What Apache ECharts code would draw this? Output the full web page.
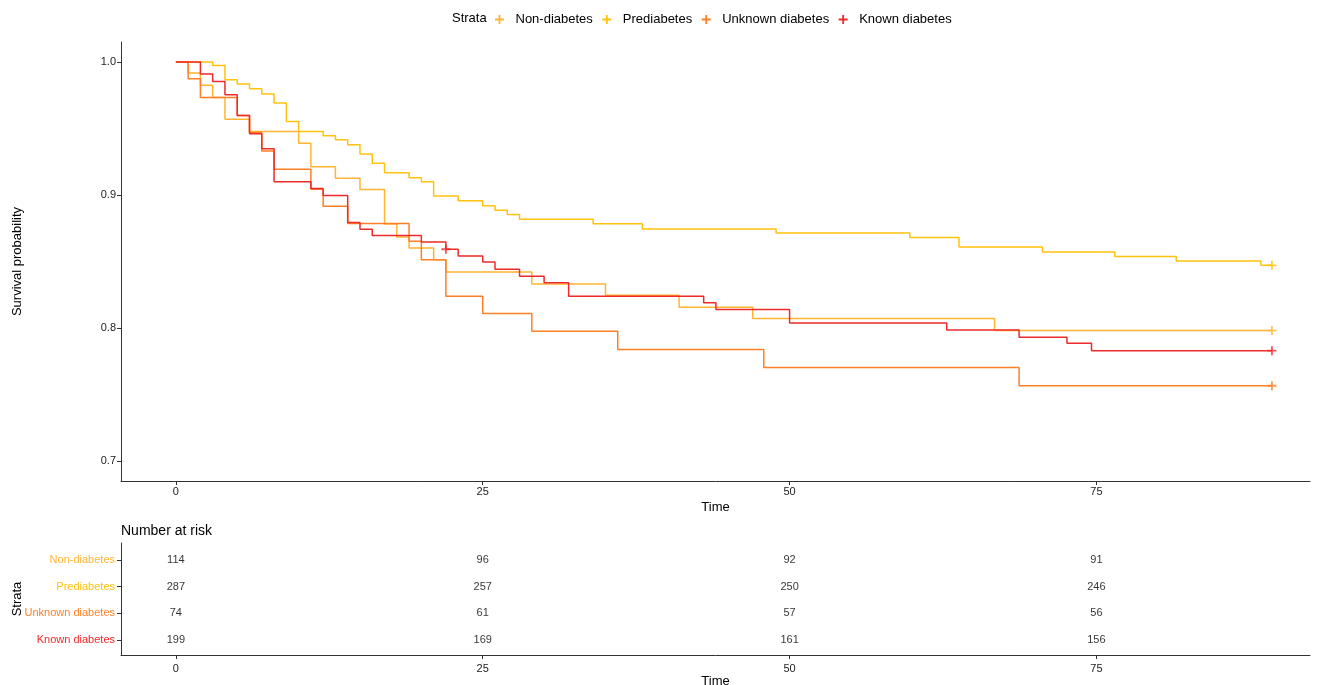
<!DOCTYPE html>
<html>
<head>
<meta charset="utf-8">
<title>Survival curves by diabetes status</title>
<script src="https://cdn.jsdelivr.net/npm/echarts@6/dist/echarts.min.js"></script>
<style>
  html, body { margin: 0; padding: 0; background: #fff; }
  #chart { width: 1325px; height: 685px; }
</style>
</head>
<body>
<div id="chart"></div>
<script>
// strata and colours
var strata = ['Non-diabetes', 'Prediabetes', 'Unknown diabetes', 'Known diabetes'];
var colors = ['#FFB531', '#FFC20E', '#FF7F27', '#EE2A2A'];

// Kaplan-Meier steps (time, survival)
var nonTime = [0, 1, 2, 3, 4, 6, 10, 11, 13, 15, 17, 18, 19, 21, 22, 29, 35, 41, 47, 66.7, 89.3];
var nonSurv = [1, 0.9917, 0.9824, 0.9733, 0.957, 0.9477, 0.9389, 0.9213, 0.9125, 0.9041, 0.8781, 0.8685, 0.8602, 0.8514, 0.8421, 0.833, 0.8247, 0.8157, 0.8072, 0.7981, 0.7981];

var preTime = [0, 3, 4, 5, 6, 7, 8, 9, 10, 12, 13, 14, 15, 16, 17, 19, 20, 21, 23, 25, 26, 27, 28, 34, 38, 48.9, 59.8, 63.8, 70.6, 76.5, 81.5, 88.4, 89.3];
var preSurv = [1, 0.9974, 0.9867, 0.9834, 0.9799, 0.9759, 0.9691, 0.9552, 0.9477, 0.9445, 0.9415, 0.9378, 0.9308, 0.9238, 0.9167, 0.913, 0.91, 0.8992, 0.8956, 0.8919, 0.8886, 0.8854, 0.8818, 0.8783, 0.8745, 0.8715, 0.868, 0.8609, 0.8572, 0.8537, 0.8504, 0.8471, 0.8471];

var unkTime = [0, 1, 2, 5, 6, 7, 8, 11, 12, 14, 19, 20, 22, 25, 29, 36, 47.9, 68.7, 89.3];
var unkSurv = [1, 0.9874, 0.9733, 0.9597, 0.9469, 0.9331, 0.9193, 0.9044, 0.8916, 0.8786, 0.8652, 0.8514, 0.8238, 0.8109, 0.7975, 0.7839, 0.7704, 0.7566, 0.7566];

var knownTime = [0, 2, 3, 4, 5, 6, 7, 8, 11, 12, 14, 15, 16, 20, 22, 23, 25, 26, 28, 30, 32, 43, 44, 50, 62.8, 68.7, 72.6, 74.6, 89.3];
var knownSurv = [1, 0.991, 0.9854, 0.9753, 0.9597, 0.946, 0.9348, 0.91, 0.9048, 0.8997, 0.8793, 0.8743, 0.8695, 0.8647, 0.8592, 0.8541, 0.8496, 0.8441, 0.839, 0.8341, 0.8238, 0.819, 0.814, 0.8038, 0.7986, 0.793, 0.7885, 0.783, 0.783];

// censoring marks (times)
var nonCensor = [89.3];
var preCensor = [89.3];
var unkCensor = [89.3];
var knownCensor = [22, 89.3];

// number at risk table
var riskTimes = [0, 25, 50, 75];
var nonRisk = [114, 96, 92, 91];
var preRisk = [287, 257, 250, 246];
var unkRisk = [74, 61, 57, 56];
var knownRisk = [199, 169, 161, 156];

var xTicks = [0, 25, 50, 75];
var yTicks = [0.7, 0.8, 0.9, 1.0];

var font = 'Liberation Sans, Arial, sans-serif';
var plus = 'path://M4,0H6V4H10V6H6V10H4V6H0V4H4Z';

function pairs(t, s) {
    return t.map(function (v, i) { return [v, s[i]]; });
}
function survAt(t, s, x) {
    var v = s[0];
    for (var i = 0; i < t.length; i++) { if (t[i] <= x) v = s[i]; }
    return v;
}

var curves = [
    { t: nonTime, s: nonSurv, c: nonCensor, r: nonRisk },
    { t: preTime, s: preSurv, c: preCensor, r: preRisk },
    { t: unkTime, s: unkSurv, c: unkCensor, r: unkRisk },
    { t: knownTime, s: knownSurv, c: knownCensor, r: knownRisk }
];

var chart = echarts.init(document.getElementById('chart'));
var series = [];
var rich = {};

curves.forEach(function (cv, k) {
    series.push({
        name: strata[k],
        type: 'line',
        step: 'end',
        xAxisIndex: 0,
        yAxisIndex: 0,
        symbol: 'none',
        lineStyle: { color: colors[k], width: 1.5 },
        itemStyle: { color: colors[k] },
        data: pairs(cv.t, cv.s),
        z: 2 + k
    });
    series.push({
        name: strata[k],
        type: 'scatter',
        xAxisIndex: 0,
        yAxisIndex: 0,
        symbol: plus,
        symbolSize: 9,
        itemStyle: { color: colors[k] },
        data: cv.c.map(function (x) { return [x, survAt(cv.t, cv.s, x)]; }),
        z: 2 + k
    });
    // risk table row, top row = first stratum
    var row = strata.length - k;
    series.push({
        type: 'scatter',
        xAxisIndex: 1,
        yAxisIndex: 1,
        symbolSize: 1,
        itemStyle: { color: 'rgba(0,0,0,0)' },
        label: {
            show: true,
            position: 'inside',
            color: '#000',
            fontSize: 11,
            fontFamily: font,
            formatter: function (p) { return p.value[2]; }
        },
        data: riskTimes.map(function (x, i) { return [x, row, cv.r[i]]; })
    });
    rich['s' + k] = { color: colors[k], fontSize: 11, fontFamily: font };
});

var axisLine = { show: true, onZero: false, lineStyle: { color: '#333', width: 1 } };
var nameStyle = { fontSize: 13, color: '#000', fontFamily: font };

function ticks(vals) {
    return { show: true, length: 4, lineStyle: { color: '#333' }, customValues: vals };
}

var option = {
    animation: false,
    backgroundColor: '#fff',
    textStyle: { fontFamily: font },
    legend: {
        data: strata.map(function (n) { return { name: n, icon: plus }; }),
        left: 490,
        top: 8,
        itemWidth: 22,
        itemHeight: 9,
        itemGap: 9.5,
        selectedMode: false,
        textStyle: { fontSize: 13, color: '#000', fontFamily: font }
    },
    graphic: [
        { type: 'text', x: 452, y: 18, style: { text: 'Strata', fontSize: 13, fontFamily: font, fill: '#000', verticalAlign: 'middle' } },
        { type: 'text', x: 121, y: 531, style: { text: 'Number at risk', fontSize: 14, fontFamily: font, fill: '#000', verticalAlign: 'middle' } }
    ],
    grid: [
        { left: 121, top: 42, width: 1189, height: 439, outerBoundsMode: 'none' },
        { left: 121, top: 543, width: 1189, height: 112, outerBoundsMode: 'none' }
    ],
    xAxis: [
        {
            type: 'value', gridIndex: 0, min: -4.47, max: 92.4,
            name: 'Time', nameLocation: 'middle', nameGap: 20, nameMoveOverlap: false,
            nameTextStyle: nameStyle,
            axisLine: axisLine, axisTick: ticks(xTicks),
            axisLabel: { customValues: xTicks, margin: 5, fontSize: 11, color: '#222', fontFamily: font },
            splitLine: { show: false }
        },
        {
            type: 'value', gridIndex: 1, min: -4.47, max: 92.4,
            name: 'Time', nameLocation: 'middle', nameGap: 20, nameMoveOverlap: false,
            nameTextStyle: nameStyle,
            axisLine: axisLine, axisTick: ticks(xTicks),
            axisLabel: { customValues: xTicks, margin: 8, fontSize: 11, color: '#222', fontFamily: font },
            splitLine: { show: false }
        }
    ],
    yAxis: [
        {
            type: 'value', gridIndex: 0, min: 0.685, max: 1.015,
            name: 'Survival probability', nameLocation: 'middle', nameRotate: 90, nameGap: 97, nameMoveOverlap: false,
            nameTextStyle: nameStyle,
            axisLine: axisLine, axisTick: ticks(yTicks),
            axisLabel: {
                customValues: yTicks, margin: 5, fontSize: 11, color: '#222', fontFamily: font,
                formatter: function (v) { return v.toFixed(1); }
            },
            splitLine: { show: false }
        },
        {
            type: 'value', gridIndex: 1, min: 0.44, max: 4.64,
            name: 'Strata', nameLocation: 'middle', nameRotate: 90, nameGap: 97, nameMoveOverlap: false,
            nameTextStyle: nameStyle,
            axisLine: axisLine, axisTick: ticks([1, 2, 3, 4]),
            axisLabel: {
                customValues: [1, 2, 3, 4], margin: 6,
                formatter: function (v) {
                    var k = strata.length - Math.round(v);
                    return '{s' + k + '|' + strata[k] + '}';
                },
                rich: rich
            },
            splitLine: { show: false }
        }
    ],
    series: series
};

chart.setOption(option);
</script>
</body>
</html>
